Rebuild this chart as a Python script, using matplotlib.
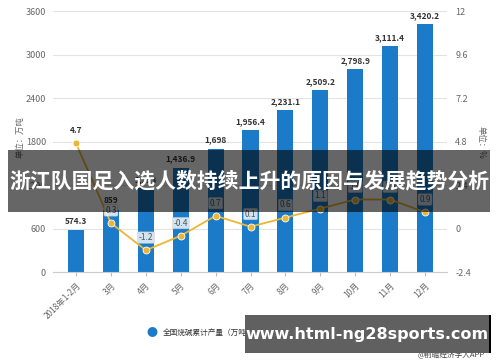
import matplotlib
matplotlib.use('Agg')
import matplotlib.pyplot as plt
from matplotlib.patches import Rectangle

plt.rcParams['font.family'] = ['Noto Sans CJK SC', 'DejaVu Sans']

months = ['2018年1-2月', '3月', '4月', '5月', '6月', '7月', '8月', '9月', '10月', '11月', '12月']
output = [574.3, 859, 1153, 1436.9, 1698, 1956.4, 2231.1, 2509.2, 2798.9, 3111.4, 3420.2]
output_labels = ['574.3', '859', '1,153', '1,436.9', '1,698', '1,956.4', '2,231.1',
                 '2,509.2', '2,798.9', '3,111.4', '3,420.2']
growth = [4.7, 0.3, -1.2, -0.4, 0.7, 0.1, 0.6, 1.1, 1.6, 1.6, 0.9]

left_ticks = [0, 600, 1200, 1800, 2400, 3000, 3600]
right_ticks = [-2.4, 0, 2.4, 4.8, 7.2, 9.6, 12]

bar_color = '#1b7bc9'
line_color = '#ecb534'
grid_color = '#e3e3e3'
tick_color = '#666666'

fig = plt.figure(figsize=(5, 3.62), dpi=100)
ax = fig.add_axes([0.106, 0.2486, 0.788, 0.721])
ax2 = ax.twinx()

x = list(range(len(months)))
ax.bar(x, output, width=0.46, color=bar_color, zorder=2)
for xi, v, lab in zip(x, output, output_labels):
    ax.text(xi, v + 60, lab, ha='center', va='bottom', fontsize=6,
            fontweight='bold', color='#333333', zorder=3)

ax.set_xlim(-0.66, 10.63)
ax.set_ylim(0, 3600)
ax.set_yticks(left_ticks)
ax.set_yticklabels([str(t) for t in left_ticks])
ax.grid(axis='y', color=grid_color, linewidth=0.8, zorder=0)
ax.set_xticks(x)
ax.set_xticklabels(months, rotation=45, ha='right', rotation_mode='anchor')
ax.tick_params(axis='x', labelsize=6, colors=tick_color, length=3, color='#bbbbbb')
ax.tick_params(axis='y', labelsize=6.5, colors=tick_color, length=0, pad=5)
for s in ['top', 'right', 'left']:
    ax.spines[s].set_visible(False)
ax.spines['bottom'].set_color('#cccccc')

ax2.plot(x, growth, color=line_color, linewidth=1.3, marker='o', markersize=5,
         markerfacecolor=line_color, markeredgecolor='white', markeredgewidth=0.6, zorder=4)
ax2.set_ylim(-2.4, 12)
ax2.set_yticks(right_ticks)
ax2.set_yticklabels([('%g' % t) for t in right_ticks])
ax2.tick_params(axis='y', labelsize=6.5, colors=tick_color, length=0, pad=6)
for s in ['top', 'right', 'left', 'bottom']:
    ax2.spines[s].set_visible(False)
for i, (xi, g) in enumerate(zip(x, growth)):
    if i == 0:
        ax2.text(xi, g + 0.45, '%g' % g, ha='center', va='bottom', fontsize=6,
                 fontweight='bold', color='#333333', zorder=5)
    else:
        ax2.text(xi, g + 0.45, '%g' % g, ha='center', va='bottom', fontsize=6,
                 color='#555555', zorder=5,
                 bbox=dict(boxstyle='round,pad=0.15', fc='white', ec='#bbbbbb', lw=0.4, alpha=0.8))

fig.text(0.04, 1 - 137 / 362, '单位：万吨', rotation=90, fontsize=6, color=tick_color,
         ha='center', va='center')
fig.text(0.962, 1 - 142 / 362, '单位：%', rotation=270, fontsize=6, color=tick_color,
         ha='center', va='center')

# legend
fig.text(0.304, 0.08, '●', fontsize=8, color=bar_color, ha='center', va='center')
fig.text(0.326, 0.08, '全国烧碱累计产量（万吨）', fontsize=5.5, color='#333333', va='center')
fig.text(0.97, 0.02, '@前瞻经济学人APP', fontsize=5.5, color='#444444', ha='right', va='center')

# title banner
fig.patches.append(Rectangle((0.016, 1 - 212 / 362), 0.964, 62 / 362, transform=fig.transFigure,
                             facecolor='black', alpha=0.6, zorder=10))
fig.text(0.498, 1 - 181 / 362, '浙江队国足入选人数持续上升的原因与发展趋势分析', fontsize=15,
         fontweight='bold', color='white', ha='center', va='center', zorder=11)

# site banner
fig.patches.append(Rectangle((0.49, 1 - 353 / 362), 0.49, 38 / 362, transform=fig.transFigure,
                             facecolor='#606060', zorder=10))
fig.patches.append(Rectangle((0.978, 1 - 353 / 362), 0.004, 38 / 362, transform=fig.transFigure,
                             facecolor='black', zorder=11))
fig.text(0.733, 1 - 334 / 362, 'www.html-ng28sports.com', fontsize=11.5, fontweight='bold',
         color='white', ha='center', va='center', family=['DejaVu Sans'], zorder=12)

fig.savefig('out.png', dpi=100)
